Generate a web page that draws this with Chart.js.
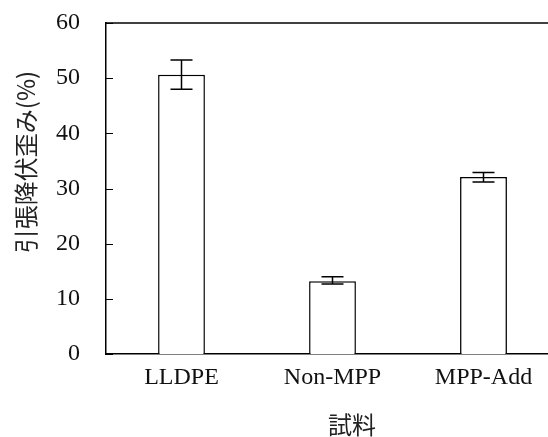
<!DOCTYPE html>
<html>
<head>
<meta charset="utf-8">
<script src="https://cdn.jsdelivr.net/npm/chart.js@4/dist/chart.umd.min.js"></script>
<style>
  html, body { margin: 0; padding: 0; background: #fff; overflow: hidden; }
  #wrap { width: 565px; height: 437px; position: relative; }
</style>
</head>
<body>
<div id="wrap"><canvas id="chart"></canvas></div>
<script>
// data
const categories = ["LLDPE", "Non-MPP", "MPP-Add"];
const strain     = [50.6, 13.2, 32.1];
const errLow     = [48.0, 12.7, 31.2];
const errHigh    = [53.3, 14.0, 32.9];
const yTicks     = [0, 10, 20, 30, 40, 50, 60];

const yTitle = "引張降伏歪み(%)";
const xTitle = "試料";

const serif = "'Liberation Serif', 'Times New Roman', serif";
const jpFont = "'Noto Sans CJK JP', sans-serif";

// error bars, inner ticks, top frame line and axis titles
const extras = {
  id: "extras",
  afterDatasetsDraw(chart) {
    const ctx = chart.ctx;
    const y = chart.scales.y;
    const bars = chart.getDatasetMeta(0).data;
    ctx.save();
    ctx.strokeStyle = "#000";
    ctx.lineWidth = 1.5;
    bars.forEach((bar, i) => {
      const yl = y.getPixelForValue(errLow[i]);
      const yh = y.getPixelForValue(errHigh[i]);
      ctx.beginPath();
      ctx.moveTo(bar.x, yl); ctx.lineTo(bar.x, yh);
      ctx.moveTo(bar.x - 11, yl); ctx.lineTo(bar.x + 11, yl);
      ctx.moveTo(bar.x - 11, yh); ctx.lineTo(bar.x + 11, yh);
      ctx.stroke();
    });
    ctx.restore();
  },
  afterDraw(chart) {
    const ctx = chart.ctx;
    const a = chart.chartArea;
    const y = chart.scales.y;
    ctx.save();
    ctx.strokeStyle = "#000";
    ctx.lineWidth = 1.5;
    // top frame
    ctx.beginPath();
    ctx.moveTo(a.left, a.top);
    ctx.lineTo(a.right, a.top);
    ctx.stroke();
    // ticks pointing inward
    ctx.lineWidth = 1;
    yTicks.forEach(v => {
      const py = Math.round(y.getPixelForValue(v)) + 0.5;
      ctx.beginPath();
      ctx.moveTo(a.left, py);
      ctx.lineTo(a.left + 7, py);
      ctx.stroke();
    });
    // titles
    ctx.fillStyle = "#222";
    ctx.font = "24px " + jpFont;
    ctx.textAlign = "center";
    ctx.textBaseline = "middle";
    ctx.fillText(xTitle, 352, 425);
    ctx.translate(26, 162);
    ctx.rotate(-Math.PI / 2);
    ctx.fillText(yTitle, 0, 0);
    ctx.restore();
  }
};

new Chart(document.getElementById("chart").getContext("2d"), {
  type: "bar",
  data: {
    labels: categories,
    datasets: [{
      data: strain,
      backgroundColor: "#fff",
      borderColor: "#000",
      borderWidth: 1.5,
      categoryPercentage: 1,
      barPercentage: 0.31,
    }]
  },
  options: {
    responsive: true,
    maintainAspectRatio: false,
    animation: false,
    layout: { padding: { top: 23, right: 6, left: 0, bottom: 0 } },
    plugins: { legend: { display: false }, tooltip: { enabled: false } },
    scales: {
      x: {
        grid: { display: false, drawTicks: false },
        border: { color: "#000", width: 1.5 },
        ticks: { color: "#111", font: { family: serif, size: 24 }, padding: 9, maxRotation: 0 },
        afterFit: s => { s.height = 83; }
      },
      y: {
        min: 0, max: 60,
        grid: { display: false, drawTicks: false },
        border: { color: "#000", width: 1.5 },
        afterBuildTicks: s => { s.ticks = yTicks.map(v => ({ value: v })); },
        ticks: { color: "#111", font: { family: serif, size: 24 }, padding: 26 },
        afterFit: s => { s.width = 106; s.paddingTop = 0; s.paddingBottom = 0; }
      }
    }
  },
  plugins: [extras]
});
</script>
</body>
</html>
